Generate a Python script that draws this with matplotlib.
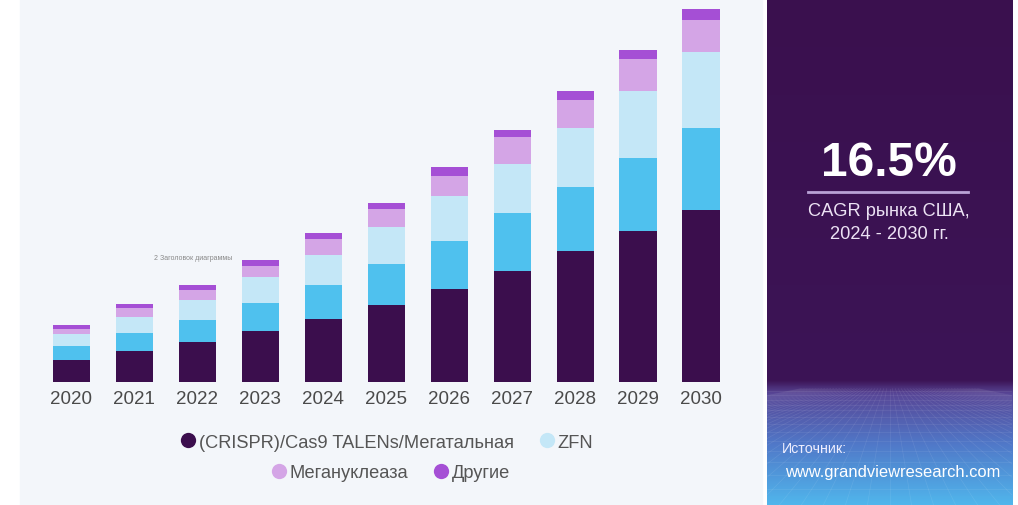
import numpy as np
import matplotlib
matplotlib.use("Agg")
import matplotlib.pyplot as plt
from matplotlib.patches import Rectangle
from matplotlib.lines import Line2D
from matplotlib import font_manager

# condensed font if present, otherwise regular Liberation Sans at smaller sizes
try:
    font_manager.findfont('Liberation Sans Narrow', fallback_to_default=False)
    fam = ['Liberation Sans Narrow', 'Liberation Sans', 'DejaVu Sans']
    k = 1.0
except Exception:
    fam = ['Liberation Sans', 'DejaVu Sans']
    k = 0.82
plt.rcParams['font.family'] = fam

years = ['2020', '2021', '2022', '2023', '2024', '2025', '2026', '2027', '2028', '2029', '2030']
crispr = [22, 31, 40, 51, 63, 77, 93, 111, 131, 151, 172]
talens = [14, 18, 22, 28, 34, 41, 48, 58, 64, 73, 82]
zfn = [12, 16, 20, 26, 30, 37, 45, 49, 59, 67, 76]
meganuclease = [5, 9, 10, 11, 16, 18, 20, 27, 28, 32, 32]
other = [4, 4, 5, 6, 6, 6, 9, 7, 9, 9, 11]

series = [crispr, talens, zfn, meganuclease, other]
colors = ['#3b0e4d', '#4fc1ee', '#c4e7f7', '#d4a5e6', '#a54fd5']

legend_labels = ['(CRISPR)/Cas9 TALENs/Мегатальная', 'ZFN', 'Мегануклеаза', 'Другие']
legend_colors = ['#3b0e4d', '#c4e7f7', '#d4a5e6', '#a54fd5']

W, H = 1018, 506
fig = plt.figure(figsize=(W / 100, H / 100), dpi=100)
fig.patch.set_facecolor('white')
fig.patches.append(Rectangle((20 / W, 0), (762 - 20) / W, 1, transform=fig.transFigure,
                             color='#f3f6fa', zorder=-2))

# bar chart
ax = fig.add_axes([40 / W, (H - 383) / H, (732.5 - 40) / W, 383 / H])
ax.set_facecolor('none')
x = np.arange(len(years))
bottom = np.zeros(len(years))
for vals, c in zip(series, colors):
    ax.bar(x, vals, bottom=bottom, width=0.59, color=c, edgecolor='none')
    bottom += np.array(vals)
ax.set_xlim(-0.5, 10.5)
ax.set_ylim(0, 383)
ax.set_xticks(x)
ax.set_xticklabels(years, fontsize=16.5 * k, color='#4a4a4a')
ax.tick_params(axis='x', length=0, pad=6)
ax.set_yticks([])
for s in ax.spines.values():
    s.set_visible(False)

ax.text(2.55, bottom[2] + 27, '2 Заголовок диаграммы', fontsize=5, color='#888888',
        ha='right', va='center')

# legend rows
h1 = [Line2D([], [], marker='o', linestyle='none', markersize=11, color=c, markeredgewidth=0)
      for c in legend_colors]
leg_kw = dict(loc='center', ncol=2, frameon=False, fontsize=16 * k, handletextpad=0.1,
              columnspacing=1.3, labelcolor='#555555', handlelength=1.0)
fig.legend(h1[:2], legend_labels[:2], bbox_to_anchor=(386 / W, 1 - 443 / H), **leg_kw)
fig.legend(h1[2:], legend_labels[2:], bbox_to_anchor=(390 / W, 1 - 474 / H), **leg_kw)

# right panel with gradient
pax = fig.add_axes([767 / W, 0, (1012 - 767) / W, 1])
n = 400
t = np.linspace(0, 1, n)
stops = [(0.0, (58, 16, 78)), (0.755, (60, 20, 86)), (0.78, (88, 70, 150)),
         (0.88, (80, 120, 200)), (1.0, (80, 182, 236))]
grad = np.zeros((n, 1, 3))
for j in range(3):
    grad[:, 0, j] = np.interp(t, [s[0] for s in stops], [s[1][j] for s in stops]) / 255
pax.imshow(grad, aspect='auto', extent=(0, 1, 1, 0))
# faint perspective grid
for i in range(-30, 31):
    pax.plot([0.5 + i * 0.012, 0.5 + i * 0.09], [0.77, 1.0], color='white', alpha=0.09, lw=0.5)
yy = 0.775
step = 0.008
while yy < 1.0:
    pax.axhline(yy, color='white', alpha=0.09, lw=0.5)
    yy += step
    step *= 1.12
pax.set_xlim(0, 1)
pax.set_ylim(1, 0)
pax.axis('off')

cx = 889 / W
fig.text(cx, 1 - 163 / H, '16.5%', fontsize=42 * k, fontweight='bold', color='white',
         ha='center', va='center')
fig.add_artist(Line2D([808 / W, 968 / W], [1 - 193 / H, 1 - 193 / H], color='#b9a2d6', lw=2))
fig.text(cx, 1 - 211 / H, 'CAGR рынка США,', fontsize=16 * k, color='#ece2f4',
         ha='center', va='center')
fig.text(cx, 1 - 235 / H, '2024 - 2030 гг.', fontsize=16 * k, color='#ece2f4',
         ha='center', va='center')
fig.text(782 / W, 1 - 449 / H, 'Источник:', fontsize=12.5 * k, color='#eeeeff',
         ha='left', va='center')
fig.text(785 / W, 1 - 473 / H, 'www.grandviewresearch.com', fontsize=14.5 * k, color='white',
         ha='left', va='center')

fig.savefig('out.png', dpi=100, facecolor=fig.get_facecolor())
